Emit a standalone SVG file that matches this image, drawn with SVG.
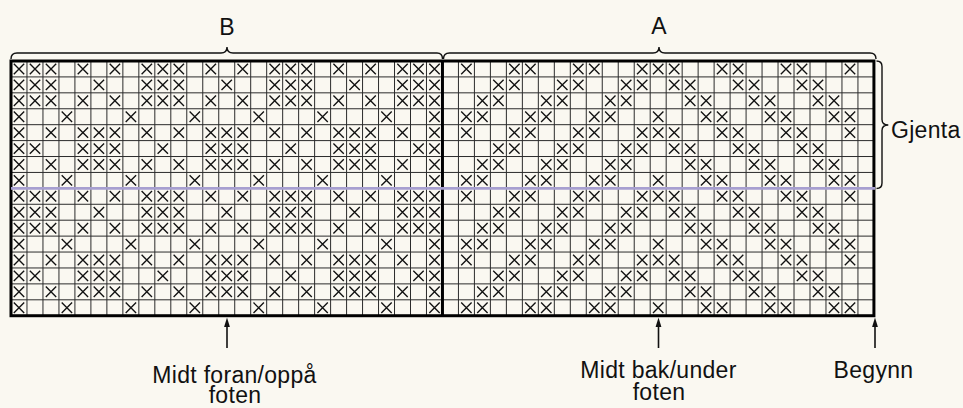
<svg xmlns="http://www.w3.org/2000/svg" xmlns:xlink="http://www.w3.org/1999/xlink" width="963" height="408" viewBox="0 0 963 408">
<style>
.bg{fill:#faf8f1}
.grid{fill:none;stroke:#2b2b2b;stroke-width:1}
.thick{fill:none;stroke:#000;stroke-width:3}
.xm{fill:none;stroke:#111;stroke-width:1.35}
.brace{fill:none;stroke:#111;stroke-width:1.4}
.rep{stroke:#a79fd0;stroke-width:2.7}
.lbl{font-family:"Liberation Sans",Arial,sans-serif;font-size:23px;fill:#111;letter-spacing:0.3px}
.arr{stroke:#111;stroke-width:1.6}
.head{fill:#111}
</style>
<defs>
<path id="x" class="xm" d="M-5.2,-5.2L5.2,5.2M5.2,-5.2L-5.2,5.2"/>
<g id="bR0"><use href="#x" x="19"/><use href="#x" x="35"/><use href="#x" x="51"/><use href="#x" x="82.9"/><use href="#x" x="114.9"/><use href="#x" x="146.8"/><use href="#x" x="162.8"/><use href="#x" x="178.8"/><use href="#x" x="210.8"/><use href="#x" x="242.7"/><use href="#x" x="274.7"/><use href="#x" x="290.7"/><use href="#x" x="306.6"/><use href="#x" x="338.6"/><use href="#x" x="370.6"/><use href="#x" x="402.5"/><use href="#x" x="418.5"/><use href="#x" x="434.5"/></g>
<g id="bR1"><use href="#x" x="19"/><use href="#x" x="35"/><use href="#x" x="51"/><use href="#x" x="98.9"/><use href="#x" x="146.8"/><use href="#x" x="162.8"/><use href="#x" x="178.8"/><use href="#x" x="226.7"/><use href="#x" x="274.7"/><use href="#x" x="290.7"/><use href="#x" x="306.6"/><use href="#x" x="354.6"/><use href="#x" x="402.5"/><use href="#x" x="418.5"/><use href="#x" x="434.5"/></g>
<g id="bR3"><use href="#x" x="19"/><use href="#x" x="66.9"/><use href="#x" x="130.9"/><use href="#x" x="194.8"/><use href="#x" x="258.7"/><use href="#x" x="322.6"/><use href="#x" x="386.5"/><use href="#x" x="434.5"/></g>
<g id="bR4"><use href="#x" x="19"/><use href="#x" x="51"/><use href="#x" x="82.9"/><use href="#x" x="98.9"/><use href="#x" x="114.9"/><use href="#x" x="146.8"/><use href="#x" x="178.8"/><use href="#x" x="210.8"/><use href="#x" x="226.7"/><use href="#x" x="242.7"/><use href="#x" x="274.7"/><use href="#x" x="306.6"/><use href="#x" x="338.6"/><use href="#x" x="354.6"/><use href="#x" x="370.6"/><use href="#x" x="402.5"/><use href="#x" x="434.5"/></g>
<g id="bR5"><use href="#x" x="19"/><use href="#x" x="35"/><use href="#x" x="82.9"/><use href="#x" x="98.9"/><use href="#x" x="114.9"/><use href="#x" x="162.8"/><use href="#x" x="210.8"/><use href="#x" x="226.7"/><use href="#x" x="242.7"/><use href="#x" x="290.7"/><use href="#x" x="338.6"/><use href="#x" x="354.6"/><use href="#x" x="370.6"/><use href="#x" x="418.5"/><use href="#x" x="434.5"/></g>
<g id="aR0"><use href="#x" x="466.4"/><use href="#x" x="514.4"/><use href="#x" x="530.4"/><use href="#x" x="578.3"/><use href="#x" x="594.3"/><use href="#x" x="642.2"/><use href="#x" x="658.2"/><use href="#x" x="674.2"/><use href="#x" x="722.1"/><use href="#x" x="738.1"/><use href="#x" x="786"/><use href="#x" x="802"/><use href="#x" x="850"/></g>
<g id="aR1"><use href="#x" x="498.4"/><use href="#x" x="514.4"/><use href="#x" x="562.3"/><use href="#x" x="578.3"/><use href="#x" x="626.2"/><use href="#x" x="642.2"/><use href="#x" x="674.2"/><use href="#x" x="690.2"/><use href="#x" x="738.1"/><use href="#x" x="754.1"/><use href="#x" x="802"/><use href="#x" x="818"/></g>
<g id="aR2"><use href="#x" x="482.4"/><use href="#x" x="498.4"/><use href="#x" x="546.3"/><use href="#x" x="562.3"/><use href="#x" x="610.3"/><use href="#x" x="626.2"/><use href="#x" x="690.2"/><use href="#x" x="706.1"/><use href="#x" x="754.1"/><use href="#x" x="770.1"/><use href="#x" x="818"/><use href="#x" x="834"/></g>
<g id="aR3"><use href="#x" x="466.4"/><use href="#x" x="482.4"/><use href="#x" x="530.4"/><use href="#x" x="546.3"/><use href="#x" x="594.3"/><use href="#x" x="610.3"/><use href="#x" x="658.2"/><use href="#x" x="706.1"/><use href="#x" x="722.1"/><use href="#x" x="770.1"/><use href="#x" x="786"/><use href="#x" x="834"/><use href="#x" x="850"/></g>
</defs>
<rect class="bg" x="0" y="0" width="963" height="408"/>
<g id="chart">
<path class="grid" d="M26.98,61V315.72M42.96,61V315.72M58.94,61V315.72M74.92,61V315.72M90.9,61V315.72M106.88,61V315.72M122.86,61V315.72M138.84,61V315.72M154.82,61V315.72M170.8,61V315.72M186.78,61V315.72M202.76,61V315.72M218.74,61V315.72M234.72,61V315.72M250.7,61V315.72M266.68,61V315.72M282.66,61V315.72M298.64,61V315.72M314.62,61V315.72M330.6,61V315.72M346.58,61V315.72M362.56,61V315.72M378.54,61V315.72M394.52,61V315.72M410.5,61V315.72M426.48,61V315.72M458.44,61V315.72M474.42,61V315.72M490.4,61V315.72M506.38,61V315.72M522.36,61V315.72M538.34,61V315.72M554.32,61V315.72M570.3,61V315.72M586.28,61V315.72M602.26,61V315.72M618.24,61V315.72M634.22,61V315.72M650.2,61V315.72M666.18,61V315.72M682.16,61V315.72M698.14,61V315.72M714.12,61V315.72M730.1,61V315.72M746.08,61V315.72M762.06,61V315.72M778.04,61V315.72M794.02,61V315.72M810,61V315.72M825.98,61V315.72M841.96,61V315.72M857.94,61V315.72M11,76.92H873.92M11,92.84H873.92M11,108.76H873.92M11,124.68H873.92M11,140.6H873.92M11,156.52H873.92M11,172.44H873.92M11,204.28H873.92M11,220.2H873.92M11,236.12H873.92M11,252.04H873.92M11,267.96H873.92M11,283.88H873.92M11,299.8H873.92"/>
<g id="marks">
<use href="#bR0" y="69"/><use href="#bR1" y="84.9"/><use href="#bR0" y="100.8"/><use href="#bR3" y="116.7"/><use href="#bR4" y="132.6"/><use href="#bR5" y="148.6"/><use href="#bR4" y="164.5"/><use href="#bR3" y="180.4"/>
<use href="#bR0" y="196.3"/><use href="#bR1" y="212.2"/><use href="#bR0" y="228.2"/><use href="#bR3" y="244.1"/><use href="#bR4" y="260"/><use href="#bR5" y="275.9"/><use href="#bR4" y="291.8"/><use href="#bR3" y="307.8"/>
<use href="#aR0" y="69"/><use href="#aR1" y="84.9"/><use href="#aR2" y="100.8"/><use href="#aR3" y="116.7"/><use href="#aR0" y="132.6"/><use href="#aR1" y="148.6"/><use href="#aR2" y="164.5"/><use href="#aR3" y="180.4"/>
<use href="#aR0" y="196.3"/><use href="#aR1" y="212.2"/><use href="#aR2" y="228.2"/><use href="#aR3" y="244.1"/><use href="#aR0" y="260"/><use href="#aR1" y="275.9"/><use href="#aR2" y="291.8"/><use href="#aR3" y="307.8"/>
</g>
<rect class="thick" x="11" y="61" width="862.92" height="254.72"/>
<line class="thick" x1="442.46" y1="61" x2="442.46" y2="315.72"/>
<line class="rep" x1="11" y1="188.36" x2="875" y2="188.36"/>
</g>
<g id="brace-B">
<path class="brace" d="M11,59 Q11,53 17,53 H221 Q227,53 227,47 Q227,53 233,53 H437 Q442.5,53 442.5,59"/>
<text class="lbl" x="227" y="35" text-anchor="middle">B</text>
</g>
<g id="brace-A">
<path class="brace" d="M443.5,59 Q443.5,53 449.5,53 H653 Q659,53 659,47 Q659,53 665,53 H870 Q876,53 876,59"/>
<text class="lbl" x="659" y="34" text-anchor="middle">A</text>
</g>
<g id="brace-repeat">
<path class="brace" d="M876.5,61 Q882,61 882,66.5 V119.5 Q882,125 888.3,125 Q882,125 882,130.5 V183 Q882,188.5 876.5,188.5"/>
<text class="lbl" x="891" y="138" letter-spacing="0">Gjenta</text>
</g>
<g id="connectors">
<line class="arr" x1="227" y1="348" x2="227" y2="325"/>
<path class="head" d="M227,317.5L229.9,327H224.1Z"/>
<line class="arr" x1="658.5" y1="348" x2="658.5" y2="325"/>
<path class="head" d="M658.5,317.5L661.4,327H655.6Z"/>
<line class="arr" x1="875" y1="348" x2="875" y2="325"/>
<path class="head" d="M875,317.5L877.9,327H872.1Z"/>
</g>
<g id="label-front">
<text class="lbl" text-anchor="middle"><tspan x="234.5" y="383">Midt foran/oppå</tspan><tspan x="235" y="403">foten</tspan></text>
</g>
<g id="label-back">
<text class="lbl" text-anchor="middle"><tspan x="658.5" y="378">Midt bak/under</tspan><tspan x="659" y="400">foten</tspan></text>
</g>
<g id="label-start">
<text class="lbl" x="873.5" y="378" text-anchor="middle">Begynn</text>
</g>
</svg>
